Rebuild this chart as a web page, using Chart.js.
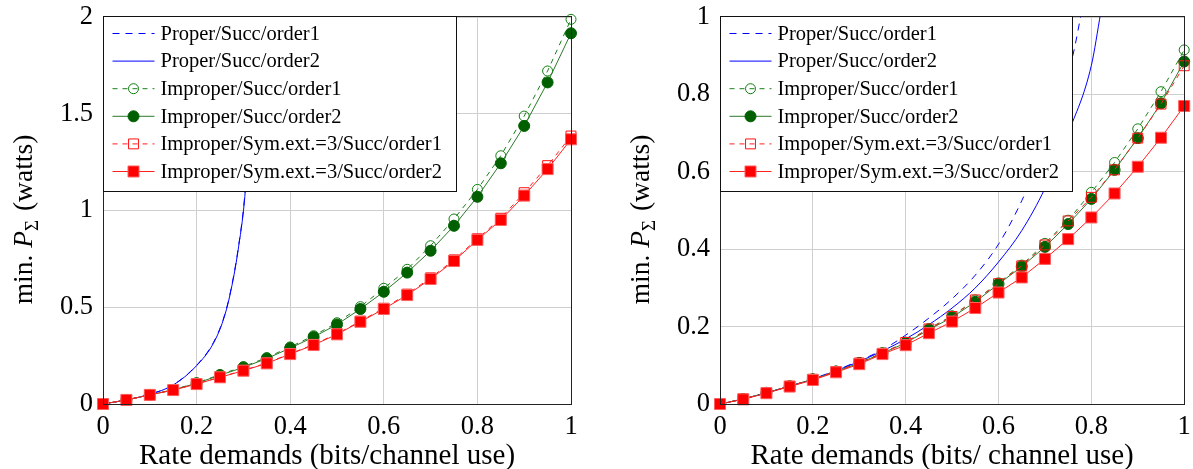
<!DOCTYPE html>
<html>
<head>
<meta charset="utf-8">
<script src="https://cdn.jsdelivr.net/npm/chart.js@4.4.1/dist/chart.umd.min.js"></script>
<style>
  body { margin: 0; background: #fff; font-family: "Liberation Serif", serif; }
  #wrap { position: relative; width: 1193px; height: 469px; }
  canvas { position: absolute; top: 0; }
</style>
</head>
<body>
<div id="wrap">
  <canvas id="leftChart" width="600" height="469" style="left:0"></canvas>
  <canvas id="rightChart" width="593" height="469" style="left:600px"></canvas>
</div>
<script>
// rate grid used by the marked series
var rates = [0, 0.05, 0.1, 0.15, 0.2, 0.25, 0.3, 0.35, 0.4, 0.45, 0.5,
             0.55, 0.6, 0.65, 0.7, 0.75, 0.8, 0.85, 0.9, 0.95, 1];

// left panel
var leftProperX = [0, 0.05, 0.1, 0.15, 0.2, 0.236, 0.257, 0.271, 0.289, 0.304, 0.312, 0.32];
var leftProper1 = [0, 0.021, 0.050, 0.099, 0.200, 0.318, 0.438, 0.565, 0.806, 1.11, 1.43, 2.06];
var leftProper2 = [0, 0.021, 0.050, 0.098, 0.198, 0.314, 0.434, 0.560, 0.800, 1.10, 1.42, 2.05];
var leftImp1 = [0, 0.021, 0.047, 0.074, 0.109, 0.152, 0.193, 0.240, 0.295, 0.353, 0.420,
                0.503, 0.598, 0.696, 0.818, 0.956, 1.109, 1.283, 1.488, 1.721, 1.988];
var leftImp2 = [0, 0.021, 0.047, 0.073, 0.107, 0.149, 0.189, 0.235, 0.289, 0.346, 0.411,
                0.491, 0.580, 0.679, 0.792, 0.921, 1.071, 1.244, 1.437, 1.662, 1.916];
var leftSym1 = [0, 0.021, 0.047, 0.072, 0.104, 0.139, 0.174, 0.212, 0.260, 0.308, 0.363,
                0.428, 0.495, 0.568, 0.652, 0.745, 0.854, 0.960, 1.092, 1.232, 1.385];
var leftSym2 = [0, 0.021, 0.047, 0.072, 0.103, 0.138, 0.172, 0.210, 0.258, 0.305, 0.360,
                0.425, 0.491, 0.563, 0.646, 0.739, 0.848, 0.951, 1.077, 1.214, 1.368];

// right panel
var rightProper1X = [0, 0.05, 0.1, 0.15, 0.2, 0.25, 0.3, 0.35, 0.4, 0.45, 0.5, 0.55, 0.6, 0.65, 0.7, 0.74, 0.76, 0.78];
var rightProper1 = [0, 0.013, 0.029, 0.046, 0.065, 0.087, 0.112, 0.140, 0.178, 0.222, 0.272, 0.333, 0.413, 0.525, 0.670, 0.820, 0.900, 1.02];
var rightProper2X = [0, 0.05, 0.1, 0.15, 0.2, 0.25, 0.3, 0.35, 0.4, 0.45, 0.5, 0.55, 0.6, 0.65, 0.7, 0.75, 0.8, 0.82];
var rightProper2 = [0, 0.013, 0.029, 0.046, 0.064, 0.086, 0.110, 0.137, 0.168, 0.205, 0.248, 0.300, 0.367, 0.448, 0.557, 0.700, 0.875, 1.01];
var rightImp1 = [0, 0.013, 0.029, 0.046, 0.064, 0.085, 0.107, 0.132, 0.160, 0.195, 0.228,
                 0.269, 0.313, 0.359, 0.415, 0.475, 0.547, 0.624, 0.711, 0.807, 0.915];
var rightImp2 = [0, 0.013, 0.029, 0.046, 0.064, 0.084, 0.106, 0.131, 0.158, 0.192, 0.224,
                 0.264, 0.310, 0.355, 0.406, 0.465, 0.530, 0.605, 0.687, 0.777, 0.885];
var rightSym1 = [0, 0.013, 0.029, 0.046, 0.064, 0.084, 0.106, 0.131, 0.159, 0.194, 0.226,
                 0.269, 0.311, 0.357, 0.411, 0.473, 0.534, 0.605, 0.687, 0.775, 0.874];
var rightSym2 = [0, 0.012, 0.028, 0.045, 0.062, 0.082, 0.103, 0.129, 0.152, 0.183, 0.213,
                 0.248, 0.288, 0.327, 0.375, 0.426, 0.482, 0.544, 0.613, 0.688, 0.770];

var xTicks = [0, 0.2, 0.4, 0.6, 0.8, 1];
var leftYTicks = [0, 0.5, 1, 1.5, 2];
var rightYTicks = [0, 0.2, 0.4, 0.6, 0.8, 1];

var leftLabels = ["Proper/Succ/order1", "Proper/Succ/order2", "Improper/Succ/order1",
                  "Improper/Succ/order2", "Improper/Sym.ext.=3/Succ/order1", "Improper/Sym.ext.=3/Succ/order2"];
var rightLabels = ["Proper/Succ/order1", "Proper/Succ/order2", "Improper/Succ/order1",
                   "Improper/Succ/order2", "Impoper/Sym.ext.=3/Succ/order1", "Improper/Sym.ext.=3/Succ/order2"];
var xTitleLeft = "Rate demands (bits/channel use)";
var xTitleRight = "Rate demands (bits/ channel use)";

var SERIF = '"Liberation Serif", Tinos, "Times New Roman", "DejaVu Serif", serif';

var styles = [
  { borderColor: "#0000ff", borderDash: [7, 6], pointRadius: 0, cubicInterpolationMode: "monotone", clip: 0 },
  { borderColor: "#0000ff", pointRadius: 0, cubicInterpolationMode: "monotone", clip: 0 },
  { borderColor: "#1a801a", borderDash: [5, 5], pointStyle: "circle", pointRadius: 5,
    pointBackgroundColor: "rgba(0,0,0,0)", pointBorderColor: "#108010", pointBorderWidth: 1, clip: 10 },
  { borderColor: "#2a7a2a", pointStyle: "circle", pointRadius: 5.5,
    pointBackgroundColor: "#006000", pointBorderColor: "#006000", pointBorderWidth: 1, clip: 10 },
  { borderColor: "#ff2020", borderDash: [5, 5], pointStyle: "rect", pointRadius: 7,
    pointBackgroundColor: "rgba(0,0,0,0)", pointBorderColor: "#ff1010", pointBorderWidth: 1, clip: 10 },
  { borderColor: "#ff2020", pointStyle: "rect", pointRadius: 7.8,
    pointBackgroundColor: "#ff0000", pointBorderColor: "#ff6060", pointBorderWidth: 1, clip: 10 }
];

function pts(xs, ys) {
  return xs.map(function (x, i) { return { x: x, y: ys[i] }; });
}

function makeDatasets(labels, series) {
  return series.map(function (s, i) {
    return Object.assign({
      label: labels[i],
      data: pts(s[0], s[1]),
      borderWidth: 1,
      tension: 0,
      fill: false,
      order: 10 - i
    }, styles[i]);
  });
}

function drawSample(ctx, st, x0, x1, y) {
  ctx.save();
  ctx.strokeStyle = st.borderColor;
  ctx.lineWidth = 1;
  ctx.setLineDash(st.borderDash || []);
  ctx.beginPath();
  ctx.moveTo(x0, y);
  ctx.lineTo(x1, y);
  ctx.stroke();
  ctx.setLineDash([]);
  if (st.pointRadius) {
    ctx.fillStyle = st.pointBackgroundColor;
    ctx.strokeStyle = st.pointBorderColor;
    Chart.helpers.drawPoint(ctx, {
      pointStyle: st.pointStyle, radius: st.pointRadius, rotation: 0, borderWidth: 1
    }, (x0 + x1) / 2, y);
  }
  ctx.restore();
}

var framePlugin = {
  id: "frameLegend",
  afterDraw: function (chart, args, opts) {
    var ctx = chart.ctx, a = chart.chartArea;
    ctx.save();
    // plot frame
    ctx.strokeStyle = "#222";
    ctx.lineWidth = 1;
    ctx.strokeRect(Math.round(a.left) + 0.5, Math.round(a.top) - 0.5,
                   Math.round(a.right - a.left), Math.round(a.bottom - a.top) + 1);

    // legend box
    var bx = Math.round(a.left) + 0.5, by = Math.round(a.top) - 0.5;
    ctx.fillStyle = "#fff";
    ctx.fillRect(bx, by, opts.width, 175);
    ctx.strokeStyle = "#111";
    ctx.strokeRect(bx, by, opts.width, 175);
    ctx.font = "20.5px " + SERIF;
    ctx.textBaseline = "middle";
    ctx.textAlign = "left";
    chart.data.datasets.forEach(function (ds, i) {
      var y = by + 17 + i * 27.6;
      drawSample(ctx, styles[i], bx + 9, bx + 51, y);
      ctx.fillStyle = "#000";
      ctx.fillText(ds.label, bx + 57, y + 1);
    });

    // y axis title: min. P_Sigma (watts)
    ctx.translate(opts.yTitleX, (a.top + a.bottom) / 2 + 10);
    ctx.rotate(-Math.PI / 2);
    var fs = 27.5;
    var parts = [
      { t: "min. ", f: fs + "px " + SERIF, dy: 0 },
      { t: "P", f: "italic " + fs + "px " + SERIF, dy: 0 },
      { t: "\u03A3", f: Math.round(fs * 0.68) + "px " + SERIF, dy: fs * 0.22 },
      { t: " (watts)", f: fs + "px " + SERIF, dy: 0 }
    ];
    var total = 0;
    parts.forEach(function (p) { ctx.font = p.f; p.w = ctx.measureText(p.t).width; total += p.w; });
    var x = -total / 2;
    ctx.fillStyle = "#000";
    ctx.textBaseline = "alphabetic";
    parts.forEach(function (p) {
      ctx.font = p.f;
      ctx.fillText(p.t, x, fs * 0.33 + p.dy);
      x += p.w + (p.t === "\u03A3" ? 2 : 0);
    });
    ctx.restore();

    // x axis title
    ctx.save();
    ctx.font = "29px " + SERIF;
    ctx.fillStyle = "#000";
    ctx.textAlign = "center";
    ctx.textBaseline = "alphabetic";
    ctx.fillText(opts.xTitle, (a.left + a.right) / 2 - 10, 464);
    ctx.restore();
  }
};

function makeChart(id, series, labels, yTicks, yMax, yAxisWidth, padRight, legendWidth, yTitleX, xTitle) {
  return new Chart(document.getElementById(id), {
    type: "line",
    data: { datasets: makeDatasets(labels, series) },
    plugins: [framePlugin],
    options: {
      responsive: false,
      animation: false,
      layout: { padding: { left: 0, top: 17, right: padRight, bottom: 0 } },
      plugins: {
        legend: { display: false },
        tooltip: { enabled: false },
        frameLegend: { width: legendWidth, yTitleX: yTitleX, xTitle: xTitle }
      },
      scales: {
        x: {
          type: "linear", min: 0, max: 1,
          afterBuildTicks: function (s) { s.ticks = xTicks.map(function (v) { return { value: v }; }); },
          afterFit: function (s) { s.height = 65; s.paddingLeft = 0; s.paddingRight = 0; },
          border: { display: false },
          grid: { color: "#cfcfcf", lineWidth: 1, drawTicks: false },
          ticks: {
            color: "#000", padding: 7, maxRotation: 0,
            font: { family: SERIF, size: 26.5 },
            callback: function (v) { return String(v); }
          }
        },
        y: {
          type: "linear", min: 0, max: yMax,
          afterBuildTicks: function (s) { s.ticks = yTicks.map(function (v) { return { value: v }; }); },
          afterFit: function (s) { s.width = yAxisWidth; s.paddingTop = 0; s.paddingBottom = 0; },
          border: { display: false },
          grid: { color: "#cfcfcf", lineWidth: 1, drawTicks: false },
          ticks: {
            color: "#000", padding: 10,
            font: { family: SERIF, size: 26.5 },
            callback: function (v) { return String(v); }
          }
        }
      }
    }
  });
}

makeChart("leftChart", [
  [leftProperX, leftProper1], [leftProperX, leftProper2],
  [rates, leftImp1], [rates, leftImp2], [rates, leftSym1], [rates, leftSym2]
], leftLabels, leftYTicks, 2, 103, 29, 353, 23, xTitleLeft);

makeChart("rightChart", [
  [rightProper1X, rightProper1], [rightProper2X, rightProper2],
  [rates, rightImp1], [rates, rightImp2], [rates, rightSym1], [rates, rightSym2]
], rightLabels, rightYTicks, 1, 120, 5, 352, 40, xTitleRight);
</script>
</body>
</html>
